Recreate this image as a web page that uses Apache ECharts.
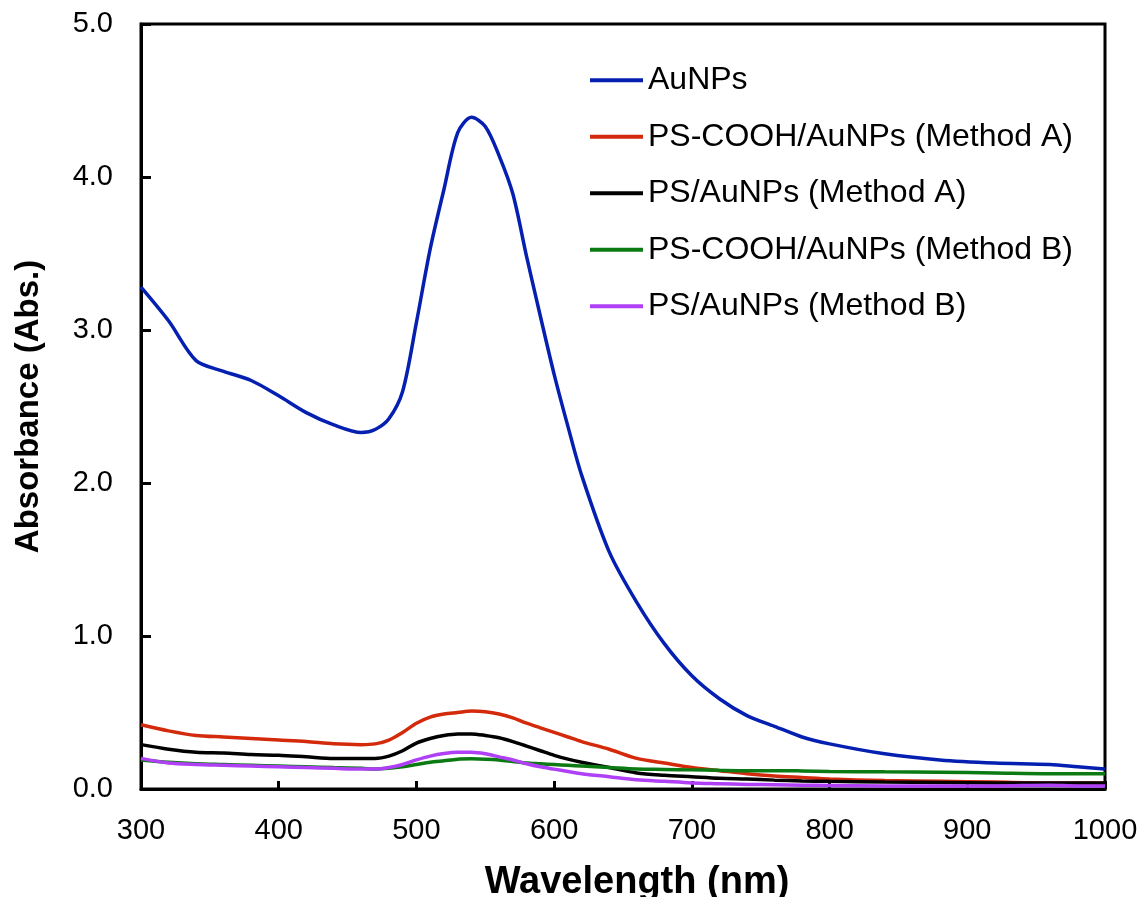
<!DOCTYPE html>
<html>
<head>
<meta charset="utf-8">
<script src="https://cdn.jsdelivr.net/npm/echarts@6/dist/echarts.min.js"></script>
<style>
  html, body { margin: 0; padding: 0; background: #fff; }
  #chart { width: 1142px; height: 897px; }
</style>
</head>
<body>
<div id="chart"></div>
<script>
// wavelength grid (nm)
const wavelengths = [300, 320, 340, 360, 380, 400, 420, 440, 460, 470, 480, 490, 500, 510, 520, 530, 540, 550, 560, 570, 580, 590, 600, 610, 620, 640, 660, 680, 700, 720, 740, 760, 780, 800, 840, 880, 920, 960, 980, 1000];

const auNPs = [3.28, 3.06, 2.80, 2.73, 2.67, 2.57, 2.46, 2.38, 2.33, 2.35, 2.42, 2.60, 3.05, 3.53, 3.92, 4.29, 4.39, 4.33, 4.14, 3.89, 3.48, 3.09, 2.71, 2.37, 2.05, 1.55, 1.22, 0.95, 0.74, 0.59, 0.48, 0.41, 0.34, 0.295, 0.23, 0.19, 0.17, 0.16, 0.145, 0.13];
const psCoohA = [0.42, 0.38, 0.35, 0.34, 0.33, 0.32, 0.31, 0.295, 0.29, 0.295, 0.32, 0.37, 0.43, 0.47, 0.49, 0.50, 0.51, 0.505, 0.49, 0.465, 0.43, 0.40, 0.37, 0.34, 0.31, 0.26, 0.20, 0.17, 0.14, 0.12, 0.10, 0.085, 0.075, 0.065, 0.055, 0.05, 0.045, 0.04, 0.04, 0.04];
const psA = [0.29, 0.26, 0.24, 0.235, 0.225, 0.22, 0.21, 0.20, 0.20, 0.20, 0.215, 0.25, 0.30, 0.33, 0.35, 0.36, 0.36, 0.35, 0.335, 0.31, 0.28, 0.25, 0.22, 0.195, 0.175, 0.14, 0.105, 0.09, 0.08, 0.07, 0.065, 0.058, 0.053, 0.05, 0.045, 0.042, 0.04, 0.04, 0.04, 0.04];
const psCoohB = [0.19, 0.175, 0.165, 0.16, 0.155, 0.15, 0.145, 0.14, 0.135, 0.13, 0.135, 0.145, 0.16, 0.175, 0.185, 0.195, 0.197, 0.195, 0.19, 0.18, 0.17, 0.165, 0.16, 0.155, 0.15, 0.14, 0.13, 0.128, 0.125, 0.122, 0.12, 0.12, 0.118, 0.115, 0.112, 0.11, 0.105, 0.10, 0.10, 0.10];
const psB = [0.20, 0.17, 0.16, 0.155, 0.15, 0.145, 0.14, 0.135, 0.13, 0.13, 0.14, 0.16, 0.19, 0.215, 0.232, 0.24, 0.24, 0.23, 0.21, 0.19, 0.165, 0.145, 0.13, 0.115, 0.10, 0.08, 0.06, 0.05, 0.04, 0.035, 0.03, 0.028, 0.025, 0.023, 0.02, 0.02, 0.02, 0.025, 0.02, 0.02];

const seriesNames = ["AuNPs", "PS-COOH/AuNPs (Method A)", "PS/AuNPs (Method A)", "PS-COOH/AuNPs (Method B)", "PS/AuNPs (Method B)"];
const seriesValues = [auNPs, psCoohA, psA, psCoohB, psB];
const colors = ["#0520b0", "#d42a0c", "#000000", "#0b7a12", "#b040f5"];

const chart = echarts.init(document.getElementById("chart"));

const font = "Liberation Sans, Arial, sans-serif";

const series = seriesNames.map((name, i) => ({
  name: name,
  type: "line",
  symbol: "none",
  smooth: 0.3,
  z: i === 0 ? 10 : 2 + i,
  lineStyle: { color: colors[i], width: 3.5 },
  itemStyle: { color: colors[i] },
  data: wavelengths.map((w, j) => [w, seriesValues[i][j]]),
}));

const option = {
  animation: false,
  grid: {
    left: 141,
    right: 37,
    top: 24,
    bottom: 108,
    outerBoundsMode: "none",
    show: true,
    borderColor: "#000",
    borderWidth: 3,
  },
  legend: {
    orient: "vertical",
    left: 585,
    top: 58,
    icon: "rect",
    itemWidth: 53,
    itemHeight: 4,
    itemGap: 22,
    data: seriesNames,
    textStyle: { fontFamily: font, fontSize: 32, color: "#000", lineHeight: 34.5 },
  },
  xAxis: {
    type: "value",
    min: 300,
    max: 1000,
    interval: 100,
    name: "Wavelength (nm)",
    nameLocation: "middle",
    nameGap: 75,
    nameTextStyle: { fontFamily: font, fontSize: 38, fontWeight: "bold", color: "#000", padding: [0, 0, 0, 28] },
    axisLine: { lineStyle: { color: "#000", width: 3 } },
    axisTick: { inside: true, length: 8, lineStyle: { color: "#000", width: 3 } },
    axisLabel: { fontFamily: font, fontSize: 29, color: "#000", margin: 27, formatter: (v) => String(v) },
    splitLine: { show: false },
  },
  yAxis: {
    type: "value",
    min: 0,
    max: 5,
    interval: 1,
    name: "Absorbance (Abs.)",
    nameLocation: "middle",
    nameGap: 96,
    nameTextStyle: { fontFamily: font, fontSize: 33, fontWeight: "bold", color: "#000" },
    axisLine: { lineStyle: { color: "#000", width: 3 } },
    axisTick: { inside: true, length: 10, lineStyle: { color: "#000", width: 3 } },
    axisLabel: { fontFamily: font, fontSize: 29, color: "#000", margin: 28, formatter: (v) => v.toFixed(1) },
    splitLine: { show: false },
  },
  series: series,
};

chart.setOption(option);
</script>
</body>
</html>
